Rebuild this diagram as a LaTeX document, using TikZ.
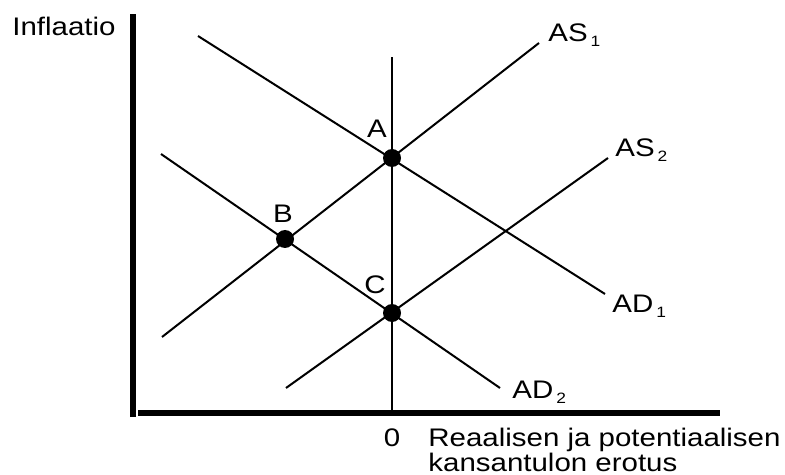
\documentclass[tikz,border=0pt]{standalone}
\usepackage{fontspec}
\setmainfont[FakeStretch=1.16]{Liberation Sans}
\usetikzlibrary{positioning}
\newcommand{\crv}[2]{#1\hspace{1.5pt}\raisebox{-2.5pt}{\fontsize{7.5}{8}\selectfont #2}}

\begin{document}
\begin{tikzpicture}[
  x=0.5pt, y=-0.5pt,
  font=\fontsize{12.7}{13.5}\selectfont,
  curve/.style={line width=1pt},
  axis/.style={line width=2.7pt},
  dot/.style={circle, fill=black, inner sep=0pt, minimum size=9pt},
  lbl/.style={inner sep=0pt, anchor=base west},
  ptlbl/.style={inner sep=0pt, anchor=base}
]
\useasboundingbox (0,0) rectangle (785,475);
\coordinate (ytop) at (133,14);
\coordinate (ybot) at (133,417);
\coordinate (xleft) at (138,413);
\coordinate (xright) at (720,413);
\coordinate (vtop) at (392,57);
\coordinate (vbot) at (392,413);
\coordinate (as1lo) at (162,337);
\coordinate (as1hi) at (539,43);
\coordinate (as2lo) at (286,388);
\coordinate (as2hi) at (608,158);
\coordinate (ad1hi) at (198,36);
\coordinate (ad1lo) at (605,294);
\coordinate (ad2hi) at (161,154);
\coordinate (ad2lo) at (500,388);
\draw[axis] (ybot) -- (ytop);
\draw[axis] (xleft) -- (xright);
\draw[curve] (vbot) -- (vtop);
\draw[curve] (as1lo) -- (as1hi);
\draw[curve] (as2lo) -- (as2hi);
\draw[curve] (ad1hi) -- (ad1lo);
\draw[curve] (ad2hi) -- (ad2lo);
\node[dot] (A) at (392,158) {};
\node[dot] (B) at (285,239) {};
\node[dot] (C) at (392,313) {};
\node[ptlbl] (labA) at (377,138) {A};
\node[ptlbl] (labB) at (283,223) {B};
\node[ptlbl] (labC) at (375,293) {C};
\node[lbl] (infl) at (12,36) {Inflaatio};
\node[lbl] (labAS1) at (548,42) {\crv{AS}{1}};
\node[lbl] (labAS2) at (615,157) {\crv{AS}{2}};
\node[lbl] (labAD1) at (612,312) {\crv{AD}{1}};
\node[lbl] (labAD2) at (512,398) {\crv{AD}{2}};
\node[ptlbl] (zero) at (392,446) {0};
\node[lbl] (xlab) at (428,446) {Reaalisen ja potentiaalisen};
\node[lbl] (xlab2) at (428,471) {kansantulon erotus};
\end{tikzpicture}
\end{document}
